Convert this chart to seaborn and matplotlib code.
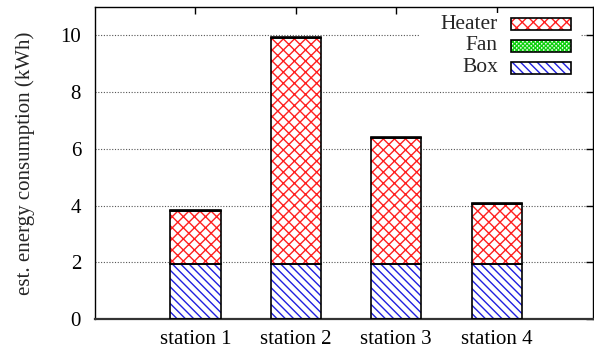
import matplotlib
matplotlib.use('Agg')
import matplotlib.pyplot as plt
from matplotlib.patches import Rectangle
import seaborn as sns

# Chart data (kWh per station)
stations = ['station 1', 'station 2', 'station 3', 'station 4']
box = [1.93, 1.93, 1.93, 1.93]
heater = [1.87, 7.99, 4.45, 2.13]
fan = [0.06, 0.02, 0.05, 0.02]

sns.set_style('white')
plt.rcParams['font.family'] = ['Liberation Serif', 'DejaVu Serif']
plt.rcParams['hatch.linewidth'] = 1.0

fig = plt.figure(figsize=(5.94, 3.51), dpi=100)
ax = fig.add_axes([95 / 594, 32 / 351, 498 / 594, 312 / 351])

box_hatch = '\\' * 4
heater_hatch = 'x' * 3
fan_hatch = 'x' * 8

# Stacked segments: Box at bottom, Heater in middle, Fan on top
bottom_heater = box
bottom_fan = [b + h for b, h in zip(box, heater)]
layers = [
    (box, [0] * 4, box_hatch, '#2020e0'),
    (heater, bottom_heater, heater_hatch, '#ff2020'),
    (fan, bottom_fan, fan_hatch, '#10d010'),
]

for vals, bot, hatch, col in layers:
    # hatch layer (hatch takes the edge colour)
    sns.barplot(x=stations, y=vals, bottom=bot, ax=ax, color='white', saturation=1,
                width=0.5, hatch=hatch, edgecolor=col, linewidth=0, errorbar=None, zorder=2)
    # black outline
    sns.barplot(x=stations, y=vals, bottom=bot, ax=ax, fill=False, color='black',
                width=0.5, linewidth=1.2, errorbar=None, zorder=3)

ax.set_xlim(-1, 3.96)
ax.set_ylim(0, 11)
ax.set_yticks([0, 2, 4, 6, 8, 10])
ax.set_xlabel('')
ax.set_ylabel('est. energy consumption (kWh)', fontsize=15, labelpad=18)

ax.yaxis.grid(True, linestyle=(0, (1, 1.5)), color='#555555', linewidth=0.8)
ax.set_axisbelow(True)
ax.tick_params(axis='both', direction='in', length=5, width=1, labelsize=15,
               top=True, right=True, colors='black')
ax.tick_params(axis='y', pad=10)
ax.tick_params(axis='x', pad=8)
for s in ax.spines.values():
    s.set_visible(True)
    s.set_color('black')
    s.set_linewidth(1.0)
ax.spines['bottom'].set_linewidth(1.6)
ax.spines['bottom'].set_color('#333333')

# gnuplot-style legend: right-aligned labels, hatched swatches
ax.add_patch(Rectangle((0.653, 0.77), 0.322, 0.21, transform=ax.transAxes,
                       facecolor='white', edgecolor='none', zorder=4))
legend_rows = [('Heater', heater_hatch, '#ff2020', 0.9455),
               ('Fan', fan_hatch, '#10d010', 0.875),
               ('Box', box_hatch, '#2020e0', 0.8045)]
for name, hatch, col, yc in legend_rows:
    ax.text(0.809, yc, name, transform=ax.transAxes, ha='right', va='center',
            fontsize=15.5, zorder=5)
    ax.add_patch(Rectangle((0.835, yc - 0.019), 0.12, 0.038, transform=ax.transAxes,
                           facecolor='white', edgecolor=col, hatch=hatch,
                           linewidth=0, zorder=5))
    ax.add_patch(Rectangle((0.835, yc - 0.019), 0.12, 0.038, transform=ax.transAxes,
                           fill=False, edgecolor='black', linewidth=1.2, zorder=6))

fig.savefig('out.png', dpi=100)
